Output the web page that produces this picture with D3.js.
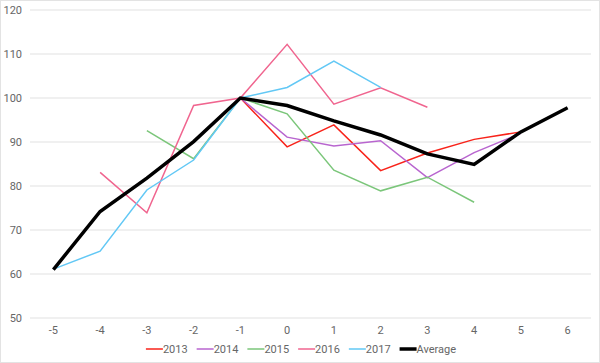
<!DOCTYPE html>
<meta charset="utf-8">
<html>
<head>
  <title>Index by year offset</title>
  <style>
    body { margin: 0; background: #fff; }
    svg { width: 600px; height: 363px; display: block; }
    text { font-family: Roboto, sans-serif; font-size: 11px; fill: #666; }
    .grid line { stroke: #ebebeb; stroke-width: 1.5px; }
    .line { fill: none; stroke-linejoin: miter; }
  </style>
  <script src="https://d3js.org/d3.v7.min.js"></script>
</head>
<body>
  <svg></svg>
  <script>
    // x categories (offset in years)
    var offsets = [-5, -4, -3, -2, -1, 0, 1, 2, 3, 4, 5, 6];
    var yTicks = [50, 60, 70, 80, 90, 100, 110, 120];

    // series values, null where the year has no point
    var s2013 = [null, null, null, null, 100, 88.9, 93.9, 83.5, 87.5, 90.6, 92.3, null];
    var s2014 = [null, null, null, null, 100, 91.1, 89.1, 90.3, 81.9, 87.6, 92.0, null];
    var s2015 = [null, null, 92.6, 86.2, 100, 96.4, 83.6, 78.9, 82.0, 76.3, null, null];
    var s2016 = [null, 83.1, 73.9, 98.3, 100, 112.2, 98.6, 102.3, 97.9, null, null, null];
    var s2017 = [61.1, 65.2, 79.1, 85.9, 100, 102.4, 108.4, 102.4, null, null, null, null];
    var avg   = [61.0, 74.2, 81.8, 90.1, 100, 98.3, 94.8, 91.6, 87.3, 84.9, 92.3, 97.8];

    var seriesNames = ["2013", "2014", "2015", "2016", "2017", "Average"];
    var seriesValues = [s2013, s2014, s2015, s2016, s2017, avg];
    var colors = ["#f8231a", "#b865cf", "#7bc67a", "#f0658f", "#62c8f5", "#000000"];
    var widths = [1.5, 1.5, 1.5, 1.5, 1.5, 3.5];

    var svg = d3.select("svg");

    // light frame around the whole picture
    svg.append("rect")
      .attr("x", 0.5).attr("y", 0.5)
      .attr("width", 599).attr("height", 362)
      .attr("fill", "none").attr("stroke", "#e3e3e3");

    // plot area (note: "top" is reserved on window, so use other names)
    var plot = {left: 30, right: 591, top: 10, bottom: 318};

    var x = d3.scalePoint().domain(offsets).range([plot.left, plot.right]).padding(0.5);
    var y = d3.scaleLinear().domain([50, 120]).range([plot.bottom, plot.top]);

    // horizontal grid
    var grid = svg.append("g").attr("class", "grid");
    grid.selectAll("line")
      .data(yTicks)
      .enter().append("line")
        .attr("x1", plot.left).attr("x2", plot.right)
        .attr("y1", function(d) { return y(d); })
        .attr("y2", function(d) { return y(d); });

    // y labels
    svg.append("g").selectAll("text")
      .data(yTicks)
      .enter().append("text")
        .attr("x", 22)
        .attr("y", function(d) { return y(d); })
        .attr("dy", "0.35em")
        .attr("text-anchor", "end")
        .text(function(d) { return d; });

    // x labels
    svg.append("g").selectAll("text")
      .data(offsets)
      .enter().append("text")
        .attr("x", function(d) { return x(d); })
        .attr("y", 334)
        .attr("text-anchor", "middle")
        .text(function(d) { return d; });

    var line = d3.line()
      .defined(function(d) { return d.v != null; })
      .x(function(d) { return x(d.k); })
      .y(function(d) { return y(d.v); });

    seriesValues.forEach(function(vals, i) {
      var pts = vals.map(function(v, j) { return { k: offsets[j], v: v }; });
      svg.append("path")
        .datum(pts)
        .attr("class", "line")
        .attr("stroke", colors[i])
        .attr("stroke-width", widths[i])
        .attr("d", line);
    });

    // legend, centred under the plot
    var legend = svg.append("g");
    var lx = 0, gap = 9;
    seriesNames.forEach(function(name, i) {
      var item = legend.append("g").attr("transform", "translate(" + lx + ",0)");
      item.append("line")
        .attr("x1", 0).attr("x2", 17)
        .attr("y1", 0).attr("y2", 0)
        .attr("stroke", colors[i])
        .attr("stroke-width", i == 5 ? 3.5 : 1.5);
      var t = item.append("text")
        .attr("x", 17).attr("y", 0).attr("dy", "0.35em")
        .text(name);
      lx += 17 + t.node().getComputedTextLength() + gap;
    });
    var legendWidth = lx - gap;
    legend.attr("transform", "translate(" + (301 - legendWidth / 2) + ",349)");
  </script>
</body>
</html>
